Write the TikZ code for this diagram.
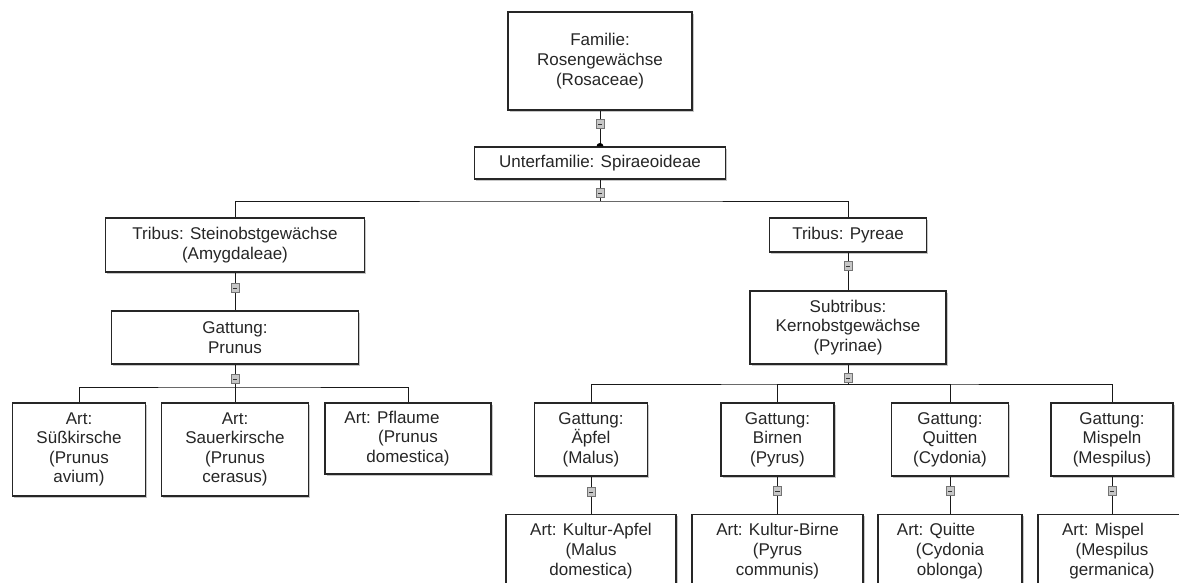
\documentclass[tikz,border=0pt]{standalone}
\usepackage{fontspec}
\setmainfont{Liberation Sans}
\usetikzlibrary{shadows}

\begin{document}
\begin{tikzpicture}[x=1pt, y=-1pt,
    box/.style={draw=black!85, fill=white, line width=1.1pt, inner sep=0pt, align=center,
        text=black!85, font=\fontsize{17}{19.6}\selectfont,
        drop shadow={shadow xshift=1.6pt, shadow yshift=-1.6pt, fill=black, opacity=0.22}},
    toggle/.style={draw=black!55, fill=black!22, minimum width=8pt, minimum height=9pt, inner sep=0pt,
        path picture={\draw[black!80, line width=1pt]
            ([xshift=-2.2pt]path picture bounding box.center) -- ([xshift=2.2pt]path picture bounding box.center);}},
    link/.style={draw=black!90, line width=0.9pt}]

    \clip (0,0) rectangle (1179,582);
    \fill[white] (0,0) rectangle (1179,582);

    % top of the tree
    \node[box, minimum width=184pt, minimum height=98pt] (fam) at (600, 61)
        {Familie:\\Rosengewächse\\(Rosaceae)};
    \node[box, minimum width=251pt, minimum height=32pt] (unter) at (600, 163)
        {Unterfamilie: Spiraeoideae};

    % tribes
    \node[box, minimum width=259pt, minimum height=54pt] (steinobst) at (235, 245)
        {Tribus: Steinobstgewächse\\(Amygdaleae)};
    \node[box, minimum width=157pt, minimum height=34pt] (pyreae) at (848, 235)
        {Tribus: Pyreae};
    \node[box, minimum width=247pt, minimum height=53pt] (prunus) at (235, 337.5)
        {Gattung:\\Prunus};
    \node[box, minimum width=196pt, minimum height=73pt] (subtribus) at (848, 327.5)
        {Subtribus:\\Kernobstgewächse\\(Pyrinae)};

    % Prunus species
    \node[box, minimum width=133pt, minimum height=93pt] (suess) at (79, 449.5)
        {Art:\\Süßkirsche\\(Prunus\\avium)};
    \node[box, minimum width=147pt, minimum height=93pt] (sauer) at (235, 449.5)
        {Art:\\Sauerkirsche\\(Prunus\\cerasus)};
    \node[box, minimum width=166pt, minimum height=71pt] (pflaume) at (408, 438.5)
        {Art: Pflaume\hspace*{32pt}\\(Prunus\\domestica)};

    % Pyrinae genera
    \node[box, minimum width=113pt, minimum height=73pt] (apfel) at (591, 439.5)
        {Gattung:\\Äpfel\\(Malus)};
    \node[box, minimum width=113pt, minimum height=73pt] (birnen) at (777.5, 439.5)
        {Gattung:\\Birnen\\(Pyrus)};
    \node[box, minimum width=117pt, minimum height=73pt] (quitten) at (950, 439.5)
        {Gattung:\\Quitten\\(Cydonia)};
    \node[box, minimum width=122pt, minimum height=73pt] (mispeln) at (1112, 439.5)
        {Gattung:\\Mispeln\\(Mespilus)};

    % Pyrinae species
    \node[box, minimum width=170pt, minimum height=73pt] (kapfel) at (591, 551)
        {Art: Kultur-Apfel\\(Malus\\domestica)};
    \node[box, minimum width=171pt, minimum height=73pt] (kbirne) at (777.5, 551)
        {Art: Kultur-Birne\\(Pyrus\\communis)};
    \node[box, minimum width=144pt, minimum height=73pt] (quitte) at (950, 551)
        {Art: Quitte\hspace*{28pt}\\(Cydonia\\oblonga)};
    \node[box, minimum width=148pt, minimum height=73pt] (mispel) at (1112, 551)
        {Art: Mispel\hspace*{18pt}\\(Mespilus\\germanica)};

    % connectors
    \coordinate (bus1) at (600, 201);
    \coordinate (bus2) at (235, 387);
    \coordinate (bus3) at (848, 384);

    \draw[link] (fam) -- (unter);
    \draw[link] (unter) -- (bus1);
    \draw[link] (steinobst) |- (bus1) -| (pyreae);
    \draw[link] (steinobst) -- (prunus);
    \draw[link] (pyreae) -- (subtribus);

    \draw[link] (prunus) -- (sauer);
    \draw[link] (suess) |- (bus2) -| (pflaume);

    \draw[link] (subtribus) -- (bus3);
    \draw[link] (apfel) |- (bus3) -| (mispeln);
    \draw[link] (birnen) |- (bus3);
    \draw[link] (quitten) |- (bus3);

    \draw[link] (apfel) -- (kapfel);
    \draw[link] (birnen) -- (kbirne);
    \draw[link] (quitten) -- (quitte);
    \draw[link] (mispeln) -- (mispel);

    % joint dot
    \fill[black] ([xshift=-3.5pt]unter.north) arc (180:0:3.5pt) -- cycle;

    % collapse buttons
    \node[toggle] (t1) at (600, 124) {};
    \node[toggle] (t2) at (600, 193) {};
    \node[toggle] (t3) at (235, 288) {};
    \node[toggle] (t4) at (848, 266) {};
    \node[toggle] (t5) at (235, 379) {};
    \node[toggle] (t6) at (848, 378) {};
    \node[toggle] (t7) at (591, 492) {};
    \node[toggle] (t8) at (777.5, 491) {};
    \node[toggle] (t9) at (950, 491) {};
    \node[toggle] (t10) at (1112, 491) {};
\end{tikzpicture}
\end{document}
